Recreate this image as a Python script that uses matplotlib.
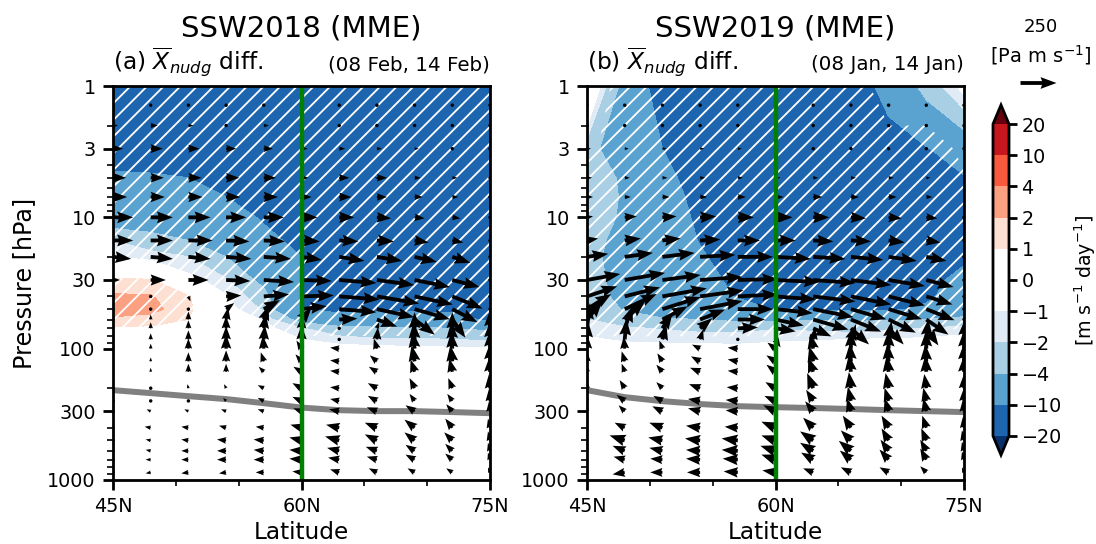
import numpy as np
import matplotlib
matplotlib.use("Agg")
import matplotlib.pyplot as plt
from matplotlib.colors import ListedColormap, BoundaryNorm
from matplotlib.ticker import FixedLocator, FixedFormatter, NullFormatter

plt.rcParams["hatch.color"] = "white"
plt.rcParams["hatch.linewidth"] = 1.3

lats = [45, 48, 51, 54, 57, 60, 63, 66, 69, 72, 75]
titles = ["SSW2018 (MME)", "SSW2019 (MME)"]
panels = [r"(a) $\overline{X}_{nudg}$ diff.", r"(b) $\overline{X}_{nudg}$ diff."]
dates = ["(08 Feb, 14 Feb)", "(08 Jan, 14 Jan)"]
cbar_levels = [-20, -10, -4, -2, -1, 0, 1, 2, 4, 10, 20]
cbar_colors = ["#1d66af", "#5aa2d0", "#a9cfe5", "#e1ebf6", "#ffffff",
               "#ffffff", "#fee0d2", "#fca082", "#f9593c", "#c8161d"]

# pressure rows of the shaded field [hPa]
field_p = [1, 3, 5, 7, 10, 15, 20, 30, 40, 50, 60, 70, 85, 100, 125, 1000]

field_a = [
    [-15, -15, -15, -15, -15, -15, -15, -15, -15, -15, -15],
    [-14, -14, -14, -15, -15, -15, -15, -15, -15, -15, -15],
    [-8.5, -9, -10, -13, -14, -15, -15, -20.5, -15, -15, -15],
    [-7, -7.5, -8.5, -10, -12, -14, -15, -15, -15, -15, -15],
    [-5.5, -5.5, -7, -8, -10.5, -13, -15, -15, -15, -15, -15],
    [-2, -3, -4, -5.5, -8.5, -11.5, -14, -15, -15, -15, -15],
    [-1, -1.3, -2, -4, -6.5, -10, -13, -14, -14, -14, -14],
    [1.2, 1.1, -0.5, -1.8, -4.8, -10.2, -12, -13, -13, -13, -13],
    [2.2, 2.1, 1.1, -0.9, -3, -10.2, -12, -12, -12, -12, -13],
    [3, 2.4, 1.2, -0.5, -2.2, -10, -11.5, -11, -11, -11, -12],
    [1.6, 1.5, 1, -0.2, -1.1, -5, -7, -7, -7, -8, -11],
    [0.8, 0.8, 0.5, 0, -0.6, -1.9, -3, -3.5, -3.5, -4, -4.5],
    [0.3, 0.2, 0, 0, -0.2, -1, -1.5, -1.8, -1.8, -2, -2.2],
    [0, 0, 0, 0, 0, -0.3, -0.5, -0.6, -0.7, -0.8, -0.8],
    [0, 0, 0, 0, 0, 0, 0, 0, 0, 0, 0],
    [0, 0, 0, 0, 0, 0, 0, 0, 0, 0, 0],
]
field_b = [
    [1.2, -5, -13, -15, -15, -15, -15, -15, -7, -3, -0.5],
    [-3, -6, -10, -14, -15, -15, -15, -15, -15.5, -10.4, -6.5],
    [-3, -4.3, -8, -13, -15, -15, -15, -15, -15, -14, -10.5],
    [-3, -4.2, -7, -12, -15, -15, -15, -15, -15, -15, -12],
    [-3, -4.3, -7, -11, -14, -15, -15, -15, -15, -15, -12],
    [-3, -5, -7.5, -10.2, -13, -14, -15, -15, -15, -14, -12],
    [-3, -5.5, -7.5, -9.5, -12, -14, -14, -14, -14, -13, -11],
    [-3, -5, -7, -8.5, -11, -14, -14, -14, -13, -12, -8],
    [-2.5, -5, -6.5, -8, -10.3, -13, -13, -13, -12, -11, -7],
    [-2.3, -4.2, -5, -6, -8, -10.3, -11, -11, -11, -9, -6],
    [-2, -2.8, -3.8, -4, -4.5, -4.5, -4.2, -4.3, -4.3, -4, -3.2],
    [-1.4, -1.8, -2.1, -2.3, -2.3, -2.1, -2.3, -2.5, -2.2, -2, -1.5],
    [-0.8, -1.2, -1.3, -1.4, -1.5, -1.2, -1.1, -1, -0.9, -0.8, -0.6],
    [-0.3, -0.4, -0.5, -0.5, -0.5, -0.5, -0.4, -0.3, -0.3, -0.2, -0.2],
    [0, 0, 0, 0, 0, 0, 0, 0, 0, 0, 0],
    [0, 0, 0, 0, 0, 0, 0, 0, 0, 0, 0],
]

# significance, hatched above 0.5
sig_a = [[1] * 11] * 12 + [[0.3] * 11] + [[0] * 11] * 3
sig_b = [
    [0, 0.8, 1, 1, 1, 1, 1, 1, 0, 0, 0],
    [0.3, 1, 1, 1, 1, 1, 1, 1, 1, 1, 0.3],
    [1, 1, 1, 1, 1, 1, 1, 1, 1, 1, 0.6],
] + [[1] * 11] * 8 + [
    [1, 1, 1, 1, 1, 1, 1, 0.8, 0.7, 0.6, 0.5],
    [0.3, 0.3, 0.3, 0.3, 0.3, 0.3, 0.3, 0.2, 0.2, 0.2, 0.1],
] + [[0] * 11] * 3

# tropopause [hPa]
tropo_a = [207, 218, 230, 242, 260, 281, 294, 299, 299, 304, 310]
tropo_b = [207, 234, 251, 264, 274, 279, 283, 288, 294, 299, 304]

# pressure rows of the flux arrows [hPa]
arrow_p = [1.4, 2, 3, 5, 7, 10, 15, 20, 30, 40, 50, 60, 70, 85, 100, 125, 150,
           200, 250, 300, 400, 500, 600, 700, 875]
ARROW_UNIT = 7  # tables below are in units of 7 Pa m s-1

u_a = [
    [1, 1.5, 1.5, 1.5, 1.5, 1.5, 1.5, 1.5, 1.5, 1.5, 0],
    [5, 7, 5, 3, 5, 1, 1, 1, 1, 1, 0],
    [10, 12, 11, 10, 9, 6, 6, 5, 4, 3, 0],
    [13, 13, 13, 13, 12, 7, 10, 10, 6, 5, 0],
    [14, 14, 14, 14, 14, 10, 12, 10, 8, 6, 0],
    [20, 22, 22, 20, 20, 16, 15, 14, 10, 8, 0],
    [20, 22, 24, 23, 21, 18, 19, 17, 14, 11, 0],
    [18, 22, 22, 25, 27, 20, 25, 25, 22, 18, 0],
    [7, 15, 20, 24, 30, 30, 37, 37, 35, 27, 0],
    [0, 1, 2, 15, 25, 32, 40, 42, 38, 30, 0],
    [0, 0, 0, 8, 16, 25, 37, 37, 35, 25, 0],
    [0, 0, 0, 2, 5, 10, 18, 20, 20, 13, 0],
    [0, 0, 0, 0, 2, 1, 1, 2, 0, 0, 0],
    [0, 0, 0, 0, 1, 0, 1, 1, -1, -1, 0],
    [0, 0, 0, 0, -1, -5, -9, -3, -2, -1, 0],
    [0, 0, 0, 0, -3, -6, -9, -7, -3, -2, 0],
    [0, 0, 0, 0, -5, -8, -9, -8, -4, -3, 0],
    [0, -1, -1, -2, -6, -9, -9, -9, -5, -4, -1],
    [0, -2, -2, -3, -6, -9, -9, -9, -5, -5, -1],
    [0, -4, -4, -5, -6, -8, -10, -10, -9, -6, -1],
    [0, -6, -7, -7, -8, -11, -13, -12, -10, -7, -2],
    [0, -5, -7, -9, -10, -12, -14, -12, -10, -8, -2],
    [0, -5, -7, -9, -10, -12, -12, -11, -9, -7, -2],
    [0, -5, -7, -9, -10, -12, -11, -10, -9, -7, -2],
    [0, -5, -7, -7, -8, -9, -9, -8, -7, -6, -2],
]
v_a = [
    [0, 0, 0, 0, 0, 0, 0, 0, 0, 0, 0],
    [0, 0, 0, 0, 0, 0, 0, 0, 0, 0, 0],
    [0, 0, 0, 0, 0, 0, 0, 0, 0, 0, 0],
    [0, 0, 0, 0, 0, 0, 0, 0, 0, 0, 0],
    [0, 0, 0, 0, 0, 0, 0, 0, 0, 0, 0],
    [0, 0, 0, 0, 0, 0, 0, -1, -1, -1, 0],
    [0, 0, 0, -1, -1, -1, -1, -1, -2, -2, 0],
    [-2, -2, -2, -2, -2, -3, -4, -4, -5, -6, 0],
    [0, 0, 0, -1, -2, -1, -3, -5, -7, -7, 0],
    [0, 0, -5, 1, 2, 1, -3, -7, -8, -12, 0],
    [0, 1, 3, 6, 9, 3, -3, -8, -10, -13, 0],
    [0, 5, 8, 12, 14, 12, 1, -7, -15, -18, 0],
    [5, 6, 8, 12, 14, 13, 1, 6, 16, 16, 18],
    [5, 6, 9, 13, 14, 14, 1, 12, 17, 17, 18],
    [5, 5, 10, 14, 13, 8, 1, 10, 17, 17, 18],
    [4, 4, 9, 11, 9, 7, 1, 6, 16, 16, 18],
    [4, 4, 8, 8, 5, 5, 1, 5, 12, 13, 16],
    [3, 3, 4, 4, 3, 5, 1, 5, 10, 10, 14],
    [2, 2, 3, 3, 3, 4, 2, 5, 7, 7, 12],
    [2, 2, 2, 2, 2, 3, 2, 4, 6, 7, 10],
    [1, 1, 1, 2, 1, 3, 3, 5, 8, 9, 9],
    [1, 1, 1, 1, 1, 3, 4, 6, 8, 8, 9],
    [1, 1, 0, 0, 1, 1, 3, 4, 6, 7, 8],
    [0, 0, 0, 0, 0, 1, 2, 3, 5, 6, 7],
    [-1, -1, -1, -1, 0, 1, 3, 4, 4, 4, 5],
]
u_b = [
    [1, 1, 1, 1, 1, 1, 1, 1, 1, 1, 1],
    [1, 1, 1, 1, 1, 1, 1, 1, 1, 1, 1],
    [4, 4, 4, 4, 4, 3, 3, 3, 3, 2, 2],
    [5, 5, 5, 5, 5, 5, 5, 5, 5, 4, 4],
    [6, 6, 7, 7, 8, 8, 9, 8, 8, 6, 6],
    [6, 12, 14, 16, 16, 17, 16, 15, 13, 11, 0],
    [11, 16, 18, 20, 22, 20, 20, 20, 16, 14, 0],
    [21, 28, 32, 35, 35, 35, 32, 32, 28, 20, 0],
    [33, 40, 38, 42, 40, 44, 42, 40, 36, 27, 0],
    [30, 35, 44, 43, 40, 40, 42, 40, 36, 26, 0],
    [24, 32, 38, 42, 35, 37, 40, 35, 33, 28, 0],
    [15, 20, 25, 25, 27, 28, 35, 30, 27, 22, 0],
    [3, 8, 10, 12, 20, 20, 18, 18, 15, 12, 0],
    [1, 2, 4, 3, 2, 5, 2, 5, 3, 2, 1],
    [0, -1, -3, -8, -10, -8, -3, 0, 0, 0, 0],
    [0, -3, -5, -9, -10, -9, -4, -1, -1, -1, 0],
    [-1, -3, -6, -10, -10, -9, -5, -2, -2, -1, 0],
    [-1, -5, -6, -11, -11, -10, -6, -2, -3, -2, 0],
    [-2, -8, -9, -12, -12, -11, -7, -3, -4, -3, 0],
    [-2, -6, -10, -12, -12, -12, -8, -4, -4, -3, -1],
    [-3, -10, -13, -14, -13, -14, -10, -8, -7, -4, -1],
    [-3, -15, -14, -15, -16, -14, -13, -10, -7, -5, -2],
    [-3, -12, -13, -14, -16, -15, -13, -12, -8, -6, -2],
    [-3, -11, -12, -14, -15, -14, -12, -11, -9, -6, -2],
    [-3, -12, -12, -13, -14, -13, -10, -10, -9, -6, -2],
]
v_b = [
    [0, 0, 0, 0, 0, 0, 0, 0, 0, 0, 0],
    [0, 0, 0, 0, 0, 0, 0, 0, 0, 0, 0],
    [0, 0, 0, 0, 0, 0, 0, 0, 0, 0, 0],
    [0, 0, 0, 0, 0, 0, 0, 0, 0, 0, 0],
    [0, 0, 0, 0, 0, 0, 0, 0, 0, 0, 0],
    [1, 1, 1, 1, 0, 0, 0, -1, -1, -1, 0],
    [2, 2, 2, 1, 0, 0, -1, -1, -2, -2, 0],
    [3, 4, 4, 2, 0, -2, -2, -3, -4, -4, 0],
    [6, 7, 5, 3, 1, -2, -3, -5, -6, -7, 0],
    [10, 9, 8, 6, 2, -3, -5, -8, -9, -8, 0],
    [15, 15, 12, 8, 0, -4, -8, -10, -10, -11, 0],
    [18, 18, 13, 10, 0, -6, -10, -12, -13, -15, 0],
    [25, 22, 15, 10, 1, -3, -8, -16, -16, -17, 0],
    [18, 20, 15, 10, 0, -8, 12, 15, 18, 20, 20],
    [14, 12, 8, 4, 1, 6, 15, 18, 18, 18, 18],
    [10, 10, 8, 5, 2, 6, 15, 18, 18, 17, 18],
    [8, 8, 7, 4, 1, 7, 14, 17, 16, 16, 16],
    [8, 8, 6, 4, 1, 6, 15, 16, 15, 14, 14],
    [6, 6, 5, 2, 1, 5, 11, 14, 13, 13, 13],
    [6, 6, 5, 3, 1, 6, 10, 13, 13, 13, 12],
    [5, 5, 5, 2, 1, 6, 10, 12, 12, 12, 11],
    [5, 5, 3, 2, 2, 5, 9, 10, 12, 12, 10],
    [5, 5, 3, 1, 1, 5, 8, 10, 11, 11, 9],
    [3, 3, 1, 1, 1, 5, 7, 9, 10, 11, 8],
    [-2, -2, 0, 0, 1, 2, 4, 5, 5, 6, 5],
]


def draw_panel(ax, field, sig, tropo, u, v, title, panel, date, show_ylabel):
    ax.set_yscale("log")
    cf = ax.contourf(lats, field_p, field, levels=cbar_levels, cmap=cmap, norm=norm,
                     extend="both", zorder=1)
    ax.contourf(lats, field_p, sig, levels=[0.5, 2], colors="none", hatches=["//"], zorder=1.5)
    ax.plot(lats, tropo, color="gray", lw=4.3, zorder=2, solid_capstyle="butt")
    q = ax.quiver(lats, arrow_p, np.array(u) * ARROW_UNIT, np.array(v) * ARROW_UNIT,
                  scale=250 / 0.36, scale_units="inches", units="dots", width=3.8,
                  headwidth=3.1, headlength=4.2, headaxislength=3.8, color="black", zorder=3)
    ax.axvline(60, color="green", lw=3.2, zorder=4)

    ax.set_xlim(45, 75)
    ax.set_ylim(1000, 1)
    ax.xaxis.set_major_locator(FixedLocator([45, 60, 75]))
    ax.xaxis.set_major_formatter(FixedFormatter(["45N", "60N", "75N"]))
    ax.xaxis.set_minor_locator(FixedLocator([50, 55, 65, 70]))
    ax.yaxis.set_major_locator(FixedLocator([1, 3, 10, 30, 100, 300, 1000]))
    ax.yaxis.set_major_formatter(FixedFormatter(["1", "3", "10", "30", "100", "300", "1000"]))
    ax.yaxis.set_minor_formatter(NullFormatter())
    ax.tick_params(which="major", length=7.5, width=2, labelsize=13.8, pad=5)
    ax.tick_params(which="minor", length=4, width=1.2)
    for spine in ax.spines.values():
        spine.set_linewidth(2)
        spine.set_zorder(6)

    ax.set_xlabel("Latitude", fontsize=16.7, labelpad=3.5)
    if show_ylabel:
        ax.set_ylabel("Pressure [hPa]", fontsize=17.2, labelpad=8)
    ax.text(0.5, 1.125, title, transform=ax.transAxes, ha="center", va="baseline", fontsize=21)
    ax.text(0, 1.04, panel, transform=ax.transAxes, ha="left", va="baseline", fontsize=16.8)
    ax.text(1, 1.04, date, transform=ax.transAxes, ha="right", va="baseline", fontsize=14.3)
    return cf, q


cmap = ListedColormap(cbar_colors)
cmap.set_under("#08306b")
cmap.set_over("#67000d")
norm = BoundaryNorm(cbar_levels, cmap.N)

W, H = 1096, 544
fig = plt.figure(figsize=(W / 100, H / 100), dpi=100)
ax_a = fig.add_axes([113 / W, 1 - 480 / H, 377 / W, 394 / H])
ax_b = fig.add_axes([587 / W, 1 - 480 / H, 377 / W, 394 / H])
cax = fig.add_axes([993 / W, 1 - 455 / H, 16 / W, 350 / H])

cf, _ = draw_panel(ax_a, field_a, sig_a, tropo_a, u_a, v_a, titles[0], panels[0], dates[0], True)
_, q = draw_panel(ax_b, field_b, sig_b, tropo_b, u_b, v_b, titles[1], panels[1], dates[1], False)

cb = fig.colorbar(cf, cax=cax, ticks=cbar_levels, spacing="uniform", extendfrac=0.061)
cb.ax.minorticks_off()
cb.ax.tick_params(length=6, width=2, labelsize=13.8, pad=3)
cb.outline.set_linewidth(2)
fig.text(1085 / W, 1 - 280 / H, r"[m s$^{-1}$ day$^{-1}$]", rotation=90, ha="center", va="center",
         fontsize=13.7)

# reference arrow
ax_b.quiverkey(q, 1038.5 / W, 1 - 83 / H, 250, "", coordinates="figure", labelpos="N")
fig.text(1041 / W, 1 - 27 / H, "250", ha="center", va="center", fontsize=13)
fig.text(1041 / W, 1 - 55 / H, r"[Pa m s$^{-1}$]", ha="center", va="center", fontsize=14)

fig.savefig("out.png", dpi=100)
